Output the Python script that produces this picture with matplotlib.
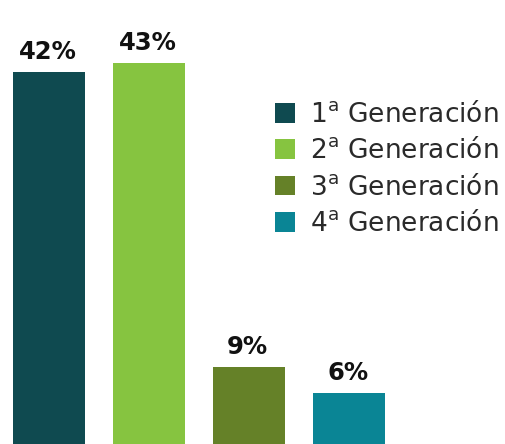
import matplotlib.pyplot as plt
from matplotlib.patches import Patch

# datos
generaciones = [r'1$^{\mathrm{a}}$ Generación', r'2$^{\mathrm{a}}$ Generación',
                r'3$^{\mathrm{a}}$ Generación', r'4$^{\mathrm{a}}$ Generación']
porcentajes = [42, 43, 9, 6]
colores = ['#0F4A50', '#86C440', '#658128', '#0A8595']

plt.rcParams['font.family'] = ['DejaVu Sans']
plt.rcParams['mathtext.fontset'] = 'dejavusans'

fig = plt.figure(figsize=(5.05, 4.44), dpi=100)
ax = fig.add_axes([0, 0, 1, 1])

x = list(range(len(porcentajes)))
bars = ax.bar(x, porcentajes, width=0.72, color=colores)

for b, v in zip(bars, porcentajes):
    ax.annotate(f'{v}%', (b.get_x() + b.get_width() / 2, v),
                xytext=(-1, 9.4), textcoords='offset points',
                ha='center', va='baseline', fontsize=17.5, fontweight='bold',
                color='#111111')

ax.set_xlim(-0.49, 4.56)
ax.set_ylim(0.34, 50.06)
ax.axis('off')

handles = [Patch(facecolor=c, edgecolor='none') for c in colores]
ax.legend(handles, generaciones, loc='upper left', bbox_to_anchor=(0.5446, 0.770),
          frameon=False, fontsize=19, handlelength=0.76, handleheight=0.76,
          handletextpad=0.57, labelspacing=0.39, borderpad=0, borderaxespad=0,
          labelcolor='#2a2a2a')

fig.savefig('out.png', dpi=100)
